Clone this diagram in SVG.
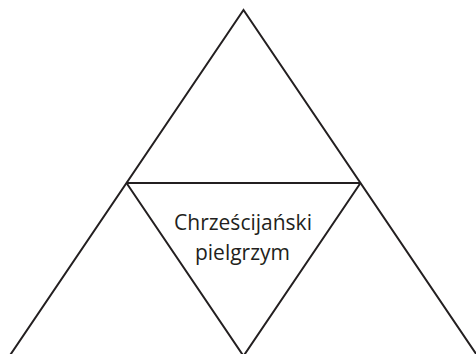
<svg xmlns="http://www.w3.org/2000/svg" width="476" height="354" viewBox="0 0 476 354">
<style>
.ln{stroke:#231f20;stroke-width:2;fill:none}
.t{font-family:"Open Sans","Liberation Sans",sans-serif;font-size:21px;fill:#231f20;text-anchor:middle}
</style>
<rect width="476" height="354" fill="#fff"/>
<g id="connectors">
<path class="ln" d="M9.5,356 L243.5,10 L477.5,356"/>
<path class="ln" d="M126.5,183 H360.5"/>
<path class="ln" d="M126.5,183 L243.5,356 L360.5,183"/>
</g>
<g id="node-center">
<text class="t" x="243" y="230">Chrześcijański</text>
<text class="t" x="242.5" y="260">pielgrzym</text>
</g>
</svg>
